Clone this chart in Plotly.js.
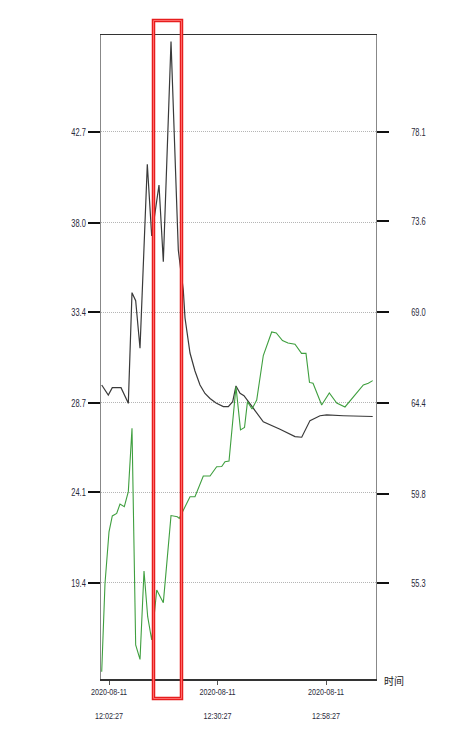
<!DOCTYPE html>
<html>
<head>
<meta charset="utf-8">
<script src="https://cdn.plot.ly/plotly-3.0.1.min.js"></script>
<style>
html,body{margin:0;padding:0;background:#fff;}
#chart{width:451px;height:747px;}
</style>
</head>
<body>
<div id="chart"></div>
<script>
var DAY = '2020-08-11 ';
var blackTimes = ['12:00:34','12:02:16','12:03:18','12:05:33','12:07:26','12:08:23','12:09:20','12:10:27','12:12:20','12:13:28','12:15:21','12:16:28','12:18:27','12:20:20','12:20:54','12:21:37','12:22:04','12:22:55','12:23:21','12:24:38','12:25:56','12:27:13','12:28:31','12:30:04','12:31:57','12:33:14','12:34:22','12:35:13','12:36:16','12:37:17','12:42:16','12:46:35','12:50:27','12:52:11','12:54:19','12:56:54','12:58:38','13:02:55','13:10:30'];
var blackValues = [29.63,29.11,29.49,29.49,28.68,34.40,33.98,31.53,41.03,37.33,39.96,36.00,47.37,36.60,35.67,34.54,33.09,31.85,31.28,30.35,29.63,29.19,28.93,28.70,28.51,28.51,28.77,29.58,29.20,29.08,27.73,27.34,26.96,26.93,27.79,28.04,28.08,28.04,28.00];

var greenTimes = ['12:00:34','12:01:25','12:02:27','12:03:18','12:04:26','12:05:17','12:06:24','12:07:26','12:08:23','12:09:20','12:10:27','12:11:29','12:12:26','12:13:28','12:14:46','12:16:28','12:18:27','12:20:05','12:20:35','12:22:04','12:23:21','12:24:38','12:26:04','12:26:47','12:28:31','12:30:14','12:31:32','12:32:23','12:33:25','12:35:13','12:36:23','12:37:25','12:38:11','12:39:21','12:40:34','12:42:16','12:44:26','12:45:37','12:47:13','12:48:38','12:50:27','12:52:08','12:53:17','12:54:11','12:55:06','12:57:20','12:59:18','13:01:13','13:03:21','13:05:30','13:08:05','13:09:22','13:10:30'];
var greenValues = [50.82,55.28,57.89,58.69,58.82,59.29,59.16,59.92,63.12,52.17,51.44,55.91,53.60,52.42,54.95,54.31,58.71,58.65,58.57,59.19,59.66,59.66,60.42,60.71,60.71,61.18,61.19,61.43,61.47,65.23,63.04,63.16,64.47,64.10,64.55,66.80,67.99,67.94,67.56,67.43,67.37,66.91,66.91,65.44,65.40,64.30,64.91,64.40,64.20,64.68,65.31,65.40,65.53];

var leftTicks = [19.4, 24.1, 28.7, 33.4, 38.0, 42.7];
var rightTicks = [55.3, 59.8, 64.4, 69.0, 73.6, 78.1];
var xTickTimes = ['12:02:27', '12:30:27', '12:58:27'];

var FONT = '"Liberation Sans", Arial, sans-serif';

var traces = [
  {x: blackTimes.map(function(t){return DAY + t;}), y: blackValues, type: 'scatter', mode: 'lines',
   line: {color: '#3a3a3a', width: 1.2}, yaxis: 'y', hoverinfo: 'skip'},
  {x: greenTimes.map(function(t){return DAY + t;}), y: greenValues, type: 'scatter', mode: 'lines',
   line: {color: '#3f9f3f', width: 1.1}, yaxis: 'y2', hoverinfo: 'skip'}
];

var layout = {
  width: 451, height: 747,
  margin: {l: 101, r: 75, t: 35, b: 68},
  paper_bgcolor: '#fff', plot_bgcolor: '#fff',
  showlegend: false,
  font: {family: FONT, size: 10, color: '#333'},
  xaxis: {
    type: 'date',
    range: [DAY + '12:00:23', DAY + '13:11:21'],
    tickvals: xTickTimes.map(function(t){return DAY + t;}),
    ticktext: xTickTimes.map(function(t){return '2020-08-11<br><br>' + t;}),
    ticks: 'outside', ticklen: 4, tickwidth: 1, tickcolor: '#555',
    showgrid: false, zeroline: false,
    showline: true, linecolor: '#333', linewidth: 1.5, mirror: true,
    tickfont: {family: FONT, size: 9, color: '#2a2a3a'},
    fixedrange: true
  },
  yaxis: {
    range: [14.44, 47.71],
    tickvals: leftTicks,
    ticktext: leftTicks.map(function(v){return v.toFixed(1);}),
    ticks: 'outside', ticklen: 12, tickwidth: 2, tickcolor: '#111',
    showgrid: true, gridcolor: '#b5b5b5', griddash: '1px,1px', gridwidth: 1,
    zeroline: false,
    showline: true, linecolor: '#888', linewidth: 1,
    tickfont: {family: FONT, size: 11, color: '#2a2a3a'},
    fixedrange: true
  },
  yaxis2: {
    overlaying: 'y', side: 'right',
    range: [50.45, 83.0],
    tickvals: rightTicks,
    ticktext: rightTicks.map(function(v){return v.toFixed(1);}),
    ticks: 'outside', ticklen: 12, tickwidth: 2, tickcolor: '#111',
    ticklabelstandoff: 20,
    showgrid: false, zeroline: false,
    showline: true, linecolor: '#888', linewidth: 1,
    tickfont: {family: FONT, size: 11, color: '#2a2a3a'},
    fixedrange: true
  },
  shapes: [
    {type: 'rect', xref: 'paper', yref: 'paper', x0: 0.1909, x1: 0.2927, y0: -0.0303, y1: 1.0225,
     line: {color: '#e61e1e', width: 3.5}, fillcolor: 'rgba(0,0,0,0)', layer: 'above'},
    {type: 'rect', xref: 'paper', yref: 'paper', x0: 0.1909, x1: 0.2927, y0: -0.0303, y1: 1.0225,
     line: {color: '#ff6a6a', width: 1}, fillcolor: 'rgba(0,0,0,0)', layer: 'above'}
  ],
  annotations: [
    {text: '时间', xref: 'paper', yref: 'paper', x: 1.02, y: -0.003, xanchor: 'left', yanchor: 'middle',
     showarrow: false, font: {family: '"Noto Sans CJK SC", sans-serif', size: 10, color: '#222'}}
  ]
};

function squeeze(sel, sx, sy) {
  document.querySelectorAll(sel).forEach(function(t) {
    var x = parseFloat(t.getAttribute('x')) || 0;
    var y = parseFloat(t.getAttribute('y')) || 0;
    var tr = t.getAttribute('transform') || '';
    t.setAttribute('transform', tr + ' translate(' + x + ',' + y + ') scale(' + sx + ',' + sy + ') translate(' + (-x) + ',' + (-y) + ')');
  });
}

Plotly.newPlot('chart', traces, layout, {displayModeBar: false, staticPlot: true}).then(function() {
  squeeze('.ytick text', 0.68, 1);
  squeeze('.y2tick text', 0.68, 1);
  squeeze('.xtick text', 0.8, 1);
});
</script>
</body>
</html>
